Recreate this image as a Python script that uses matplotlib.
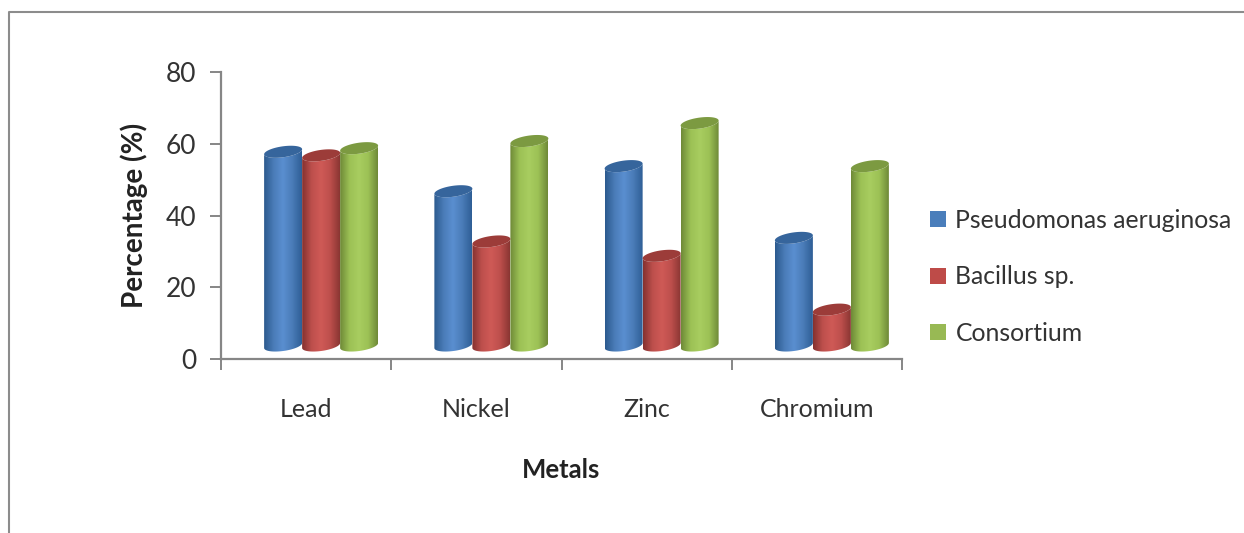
import numpy as np
import matplotlib
matplotlib.use("Agg")
import matplotlib.pyplot as plt
from matplotlib.colors import LinearSegmentedColormap
from matplotlib.lines import Line2D
from matplotlib.patches import Patch, PathPatch, Polygon
from matplotlib.path import Path

plt.rcParams['font.family'] = ['Lato', 'DejaVu Sans']

metals = ["Lead", "Nickel", "Zinc", "Chromium"]
series_names = ["Pseudomonas aeruginosa", "Bacillus sp.", "Consortium"]
pseudomonas = [54, 43, 50, 30]
bacillus = [53, 29, 25, 10]
consortium = [55, 57, 62, 50]
series_values = [pseudomonas, bacillus, consortium]

# dark edge, light middle, dark edge, plus cap and legend colours
shades = [
    ["#2c5a8e", "#4a7cb8", "#5a8fd0", "#4a7cb8", "#2f5f96"],
    ["#853230", "#bd4f4c", "#cf5a56", "#bd4f4c", "#8a3633"],
    ["#6f8a38", "#9cc155", "#a8cd60", "#9cc155", "#6f8a38"],
]
cap_colors = ["#36659c", "#9c3c39", "#7c9a41"]
legend_colors = ["#4a7ebb", "#be4b48", "#98b954"]

GRAY = "#868686"
TEXT = "#333333"

fig = plt.figure(figsize=(12.44, 5.33), dpi=100)
ax = fig.add_axes([221 / 1244, 1 - 359 / 533, (902 - 221) / 1244, (359 - 72) / 533])
ax.set_xlim(-0.5, 3.5)
ax.set_ylim(0, 80)

# size of one data unit in pixels, used to keep the cylinders round
px_x = 681 / 4
px_y = 287 / 80
bar_w = 38 / px_x
depth_x = 15 / px_x
depth_y = 13.5 / px_y
half_w = bar_w / 2
cap_h = 5.5 / px_y
tilt = 2.5 / px_y


def ellipse(cx, cy, t):
    return cx + half_w * np.cos(t), cy + cap_h * np.sin(t) + tilt * np.cos(t)


def draw_cylinder(cx, value, shade, cap_color):
    base = depth_y
    top = base + value
    t_low = np.linspace(np.pi, 2 * np.pi, 40)
    t_all = np.linspace(0, 2 * np.pi, 80)
    xb, yb = ellipse(cx, base, t_low)
    xt, yt = ellipse(cx, top, t_low[::-1])
    body = np.column_stack([np.r_[xb, xt], np.r_[yb, yt]])
    clip = PathPatch(Path(np.vstack([body, body[0]]), closed=True),
                     transform=ax.transData, fc="none", ec="none")
    ax.add_patch(clip)
    cmap = LinearSegmentedColormap.from_list("cyl", shade)
    im = ax.imshow(np.linspace(0, 1, 64).reshape(1, -1), cmap=cmap, aspect="auto",
                   extent=[cx - half_w, cx + half_w, 0, 80], zorder=2,
                   interpolation="bilinear")
    im.set_clip_path(clip)
    xc, yc = ellipse(cx, top, t_all)
    ax.add_patch(Polygon(np.column_stack([xc, yc]), closed=True, fc=cap_color,
                         ec="none", zorder=3))


for i in range(len(metals)):
    for j, vals in enumerate(series_values):
        cx = i + depth_x + (j - 1) * bar_w
        draw_cylinder(cx, vals[i], shades[j], cap_colors[j])

ax.set_xlim(-0.5, 3.5)
ax.set_ylim(0, 80)

for side in ["top", "right"]:
    ax.spines[side].set_visible(False)
for side in ["left", "bottom"]:
    ax.spines[side].set_color(GRAY)
    ax.spines[side].set_linewidth(1.6)

ax.set_yticks([0, 20, 40, 60, 80])
ax.tick_params(axis="y", length=8, width=1.4, color=GRAY, labelsize=19,
               labelcolor=TEXT, pad=10)
ax.set_xticks(np.arange(-0.5, 4, 1))
ax.set_xticklabels([])
ax.set_xticks(np.arange(4), labels=metals, minor=True)
ax.tick_params(axis="x", which="major", length=8, width=1.4, color=GRAY)
ax.tick_params(axis="x", which="minor", length=0, labelsize=18, labelcolor=TEXT, pad=28)

fig.text(134 / 1244, 1 - 215 / 533, "Percentage (%)", fontsize=20, fontweight="bold",
         color="#222222", rotation=90, ha="center", va="center")
fig.text(561 / 1244, 1 - 470 / 533, "Metals", fontsize=18.5, fontweight="bold",
         color="#222222", ha="center", va="center")

handles = [Patch(fc=c, ec="none") for c in legend_colors]
fig.legend(handles, series_names, loc="center left",
           bbox_to_anchor=(908 / 1244, 1 - 277 / 533), frameon=False, fontsize=17.8,
           labelcolor=TEXT, handlelength=0.62, handleheight=0.62, handletextpad=0.4,
           labelspacing=1.35)

# outer frame of the original figure, open on the right and the bottom
fig.add_artist(Line2D([9 / 1244, 9 / 1244, 1], [0, 1 - 12 / 533, 1 - 12 / 533],
                      color="#8c8c8c", lw=1.5))

fig.savefig("out.png", dpi=100)
